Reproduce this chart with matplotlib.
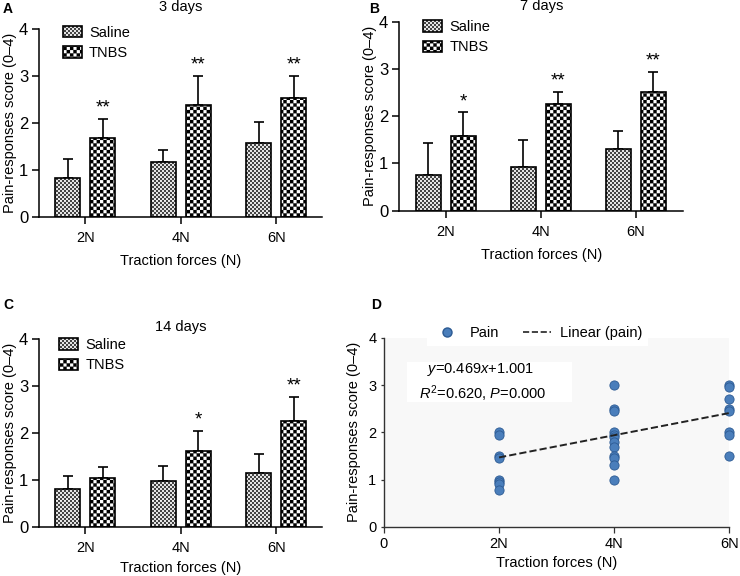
import numpy as np
import matplotlib
matplotlib.use("Agg")
import matplotlib.pyplot as plt
import matplotlib.hatch as mhatch
from matplotlib.path import Path
from matplotlib.lines import Line2D
from matplotlib.patches import Rectangle

plt.rcParams['font.family'] = ['Liberation Sans', 'DejaVu Sans']
plt.rcParams['mathtext.fontset'] = 'custom'
plt.rcParams['mathtext.rm'] = 'Liberation Sans'
plt.rcParams['mathtext.it'] = 'Liberation Sans:italic'
plt.rcParams['hatch.linewidth'] = 0.1

# ---- data ----
groups = ['2N', '4N', '6N']

# A: 3 days
saline_3d = [0.82, 1.16, 1.57]
saline_3d_err = [0.41, 0.26, 0.46]
tnbs_3d = [1.67, 2.38, 2.54]
tnbs_3d_err = [0.41, 0.63, 0.46]
stars_3d = ['**', '**', '**']

# B: 7 days
saline_7d = [0.75, 0.92, 1.31]
saline_7d_err = [0.69, 0.58, 0.38]
tnbs_7d = [1.59, 2.26, 2.51]
tnbs_7d_err = [0.49, 0.26, 0.43]
stars_7d = ['*', '**', '**']

# C: 14 days
saline_14d = [0.82, 0.99, 1.16]
saline_14d_err = [0.27, 0.32, 0.41]
tnbs_14d = [1.04, 1.62, 2.26]
tnbs_14d_err = [0.24, 0.44, 0.51]
stars_14d = ['', '*', '**']

# D: individual scores and linear fit (x coded 1,2,3)
force_n = [2, 4, 6]
pain_2n = [2.0, 1.95, 1.5, 1.45, 1.0, 0.95, 0.9, 0.78]
pain_4n = [3.0, 2.5, 2.45, 2.0, 1.95, 1.9, 1.8, 1.7, 1.5, 1.45, 1.3, 1.0]
pain_6n = [3.0, 2.95, 2.7, 2.5, 2.45, 2.0, 1.95, 1.5]
fit_slope = 0.469
fit_icept = 1.001


# checkerboard hatches: 'o' -> coarse black/white, 'O' -> fine grey
class CheckerHatch(mhatch.HatchPatternBase):
    def __init__(self, hatch, density):
        self.n = 0
        if 'O' in hatch:
            self.n = 50
        elif 'o' in hatch:
            self.n = 30
        self.num_vertices = (self.n * self.n // 2) * 5

    def set_vertices_and_codes(self, vertices, codes):
        s = 1.0 / self.n
        k = 0
        for i in range(self.n):
            for j in range(self.n):
                if (i + j) % 2 == 0:
                    x, y = i * s, j * s
                    vertices[k:k + 5] = [(x, y), (x + s, y), (x + s, y + s), (x, y + s), (x, y)]
                    codes[k:k + 5] = [Path.MOVETO, Path.LINETO, Path.LINETO, Path.LINETO, Path.CLOSEPOLY]
                    k += 5


mhatch._hatch_types[:] = [CheckerHatch]

fig = plt.figure(figsize=(7.4, 5.76), dpi=100)

width = 0.26
off = 0.183


def bars(ax, x, vals, hatch, hcolor):
    f = ax.bar(x, vals, width, color='white', edgecolor=hcolor, hatch=hatch, linewidth=0, zorder=2)
    e = ax.bar(x, vals, width, fill=False, edgecolor='black', linewidth=1.2, zorder=3)
    return f, e


def bar_panel(rect, title, ty, sal, sal_err, tn, tn_err, stars, leg_xy, xlim, xpad):
    ax = fig.add_axes(rect)
    x = np.arange(len(groups))
    s_f, s_e = bars(ax, x - off, sal, 'O', '#444444')
    t_f, t_e = bars(ax, x + off, tn, 'o', 'black')
    z = np.zeros(len(groups))
    ax.errorbar(x - off, sal, yerr=[z, sal_err], fmt='none', ecolor='black',
                elinewidth=1.2, capsize=3.3, capthick=1.2, zorder=1)
    ax.errorbar(x + off, tn, yerr=[z, tn_err], fmt='none', ecolor='black',
                elinewidth=1.2, capsize=3.3, capthick=1.2, zorder=1)
    for xi, v, e, s in zip(x + off, tn, tn_err, stars):
        ax.text(xi, v + e + 0.05, s, ha='center', va='bottom', fontsize=13.5)
    ax.set_xlim(*xlim)
    ax.set_ylim(0, 4)
    ax.set_xticks(x)
    ax.set_xticklabels(groups)
    ax.set_yticks([0, 1, 2, 3, 4])
    for sp in ['top', 'right']:
        ax.spines[sp].set_visible(False)
    for sp in ['left', 'bottom']:
        ax.spines[sp].set_linewidth(1.1)
    ax.tick_params(axis='y', labelsize=12, length=5, width=1.1, pad=3)
    ax.tick_params(axis='x', labelsize=10.5, length=5, width=1.1, pad=5)
    ax.set_xlabel('Traction forces (N)', fontsize=10.5, labelpad=xpad)
    ax.set_ylabel('Pain-responses score (0–4)', fontsize=10.5, labelpad=1)
    ax.text(0.5, ty, title, transform=ax.transAxes, ha='center', va='center', fontsize=10.5)
    ax.legend([(s_f, s_e), (t_f, t_e)], ['Saline', 'TNBS'], loc='upper left',
              bbox_to_anchor=leg_xy, frameon=False, fontsize=10.5,
              handlelength=1.3, handleheight=0.85, handletextpad=0.5,
              borderpad=0, borderaxespad=0, labelspacing=0.45)
    return ax


bar_panel([0.0531, 0.6238, 0.382, 0.3254], '3 days', 1.119,
          saline_3d, saline_3d_err, tnbs_3d, tnbs_3d_err, stars_3d, (0.083, 1.02), (-0.48, 2.48), 7)
bar_panel([0.5396, 0.6342, 0.3838, 0.3281], '7 days', 1.083,
          saline_7d, saline_7d_err, tnbs_7d, tnbs_7d_err, stars_7d, (0.083, 1.01), (-0.49, 2.5), 7)
bar_panel([0.0531, 0.0845, 0.382, 0.3264], '14 days', 1.065,
          saline_14d, saline_14d_err, tnbs_14d, tnbs_14d_err, stars_14d, (0.071, 1.008), (-0.48, 2.48), 4)

# ---- panel D ----
axd = fig.add_axes([0.5189, 0.0851, 0.4666, 0.3286])
axd.set_facecolor('#f8f8f8')
pts = [pain_2n, pain_4n, pain_6n]
for xv, ys in zip(force_n, pts):
    axd.scatter(np.full(len(ys), xv), ys, s=44, color='#4a7ebb', edgecolor='#2c5a93',
                linewidth=0.6, zorder=3, clip_on=False)
fx = np.array(force_n)
axd.plot(fx[[0, -1]], fit_icept + fit_slope * fx[[0, -1]] / 2, ls='--', color='#222222',
         lw=1.4, zorder=4)
axd.set_xlim(0, 6)
axd.set_ylim(0, 4)
axd.set_xticks([0] + force_n)
axd.set_xticklabels(['0'] + groups)
axd.set_yticks([0, 1, 2, 3, 4])
for sp in ['top', 'right']:
    axd.spines[sp].set_visible(False)
for sp in ['left', 'bottom']:
    axd.spines[sp].set_linewidth(1.0)
    axd.spines[sp].set_color('#333333')
axd.tick_params(axis='both', labelsize=10.5, length=4, width=0.9, color='#333333')
axd.tick_params(axis='y', length=2)
axd.set_xlabel('Traction forces (N)', fontsize=10.5, labelpad=3)
axd.set_ylabel('Pain-responses score (0–4)', fontsize=10.5, labelpad=5)

axd.add_patch(Rectangle((0.067, 0.661), 0.477, 0.211, transform=axd.transAxes,
                        facecolor='white', edgecolor='none', zorder=1))
axd.text(0.28, 0.83, '$y$=0.469$x$+1.001', transform=axd.transAxes, ha='center',
         va='center', fontsize=10.5, zorder=2)
axd.text(0.287, 0.703, '$R^2$=0.620, $P$=0.000', transform=axd.transAxes, ha='center',
         va='center', fontsize=10.5, zorder=2)

hd = [Line2D([], [], ls='none', marker='o', ms=6.5, color='#4a7ebb', mec='#2c5a93'),
      Line2D([], [], ls='--', color='#222222', lw=1.2)]
axd.legend(hd, ['Pain', 'Linear (pain)'], loc='center', bbox_to_anchor=(0.445, 1.025), ncol=2,
           fontsize=10.5, frameon=True, facecolor='white', edgecolor='none', framealpha=1,
           fancybox=False, handlelength=1.9, columnspacing=1.65, handletextpad=0.6)

for lab, (x, y) in zip(['A', 'B', 'C', 'D'], [(0.004, 0.996), (0.499, 0.996), (0.004, 0.482), (0.501, 0.482)]):
    fig.text(x, y, lab, fontsize=10, fontweight='bold', va='top')

fig.savefig('out.png', dpi=100)
